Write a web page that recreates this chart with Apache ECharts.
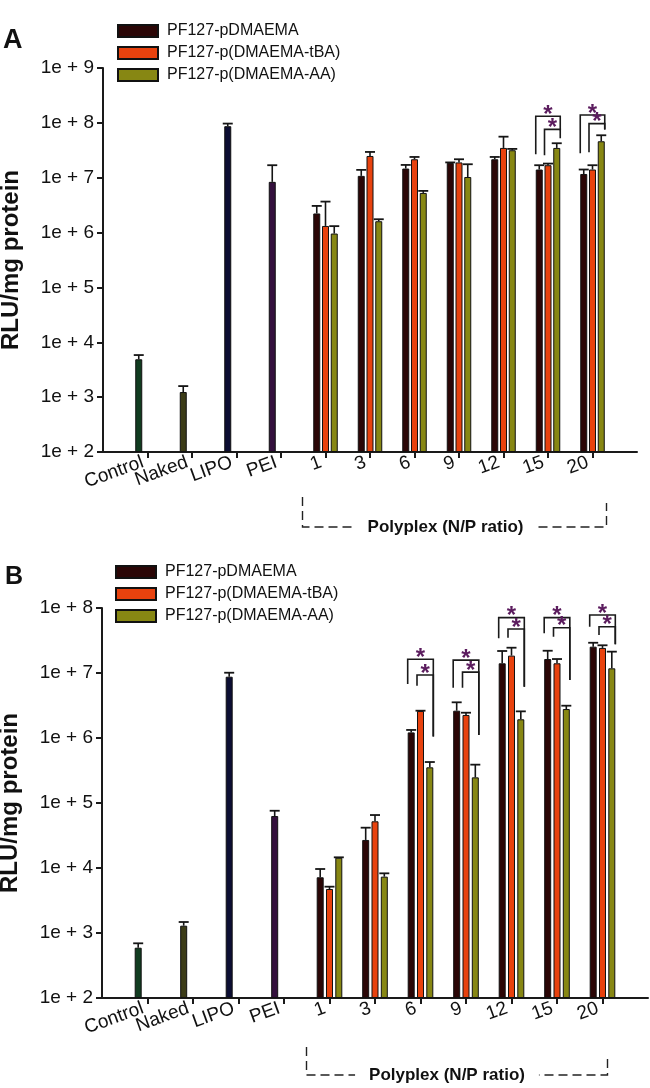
<!DOCTYPE html>
<html><head><meta charset="utf-8">
<script src="https://cdn.jsdelivr.net/npm/echarts@6/dist/echarts.min.js"></script>
<style>html,body{margin:0;padding:0;background:#fff}#c{width:650px;height:1088px}</style>
</head><body><div id="c"></div>
<script>
// ---------- data ----------
const categories = ['Control', 'Naked', 'LIPO', 'PEI', '1', '3', '6', '9', '12', '15', '20'];
const seriesNames = ['PF127-pDMAEMA', 'PF127-p(DMAEMA-tBA)', 'PF127-p(DMAEMA-AA)'];
const controlNames = ['Control', 'Naked', 'LIPO', 'PEI'];
const yTickLabelsA = ['1e + 2', '1e + 3', '1e + 4', '1e + 5', '1e + 6', '1e + 7', '1e + 8', '1e + 9'];
const yTickLabelsB = ['1e + 2', '1e + 3', '1e + 4', '1e + 5', '1e + 6', '1e + 7', '1e + 8'];

// Panel A
const controlsA = [4.9e3, 1.24e3, 8.7e7, 8.4e6];
const controlsUpperA = [5.85e3, 1.59e3, 9.7e7, 1.69e7];
const dmaemaA = [2.23e6, 1.08e7, 1.47e7, 1.86e7, 2.17e7, 1.41e7, 1.17e7];
const dmaemaUpperA = [3.06e6, 1.39e7, 1.71e7, 1.9e7, 2.39e7, 1.69e7, 1.41e7];
const tbaA = [1.32e6, 2.49e7, 2.17e7, 1.9e7, 3.49e7, 1.69e7, 1.41e7];
const tbaUpperA = [3.67e6, 2.95e7, 2.39e7, 2.17e7, 5.6e7, 1.81e7, 1.69e7];
const aaA = [9.6e5, 1.61e6, 5.28e6, 1.03e7, 3.17e7, 3.49e7, 4.62e7];
const aaUpperA = [1.31e6, 1.75e6, 5.75e6, 1.76e7, 3.35e7, 4.25e7, 5.94e7];
// [category, top, fromSeries, toSeries, leftBottom, rightBottom]
const bracketsA = [
  ['15', 1.32e8, 0, 2, 2.68e7, 7.3e7],
  ['15', 7.6e7, 1, 2, 2.57e7, 5.25e7],
  ['20', 1.39e8, 0, 2, 2.79e7, 7.55e7],
  ['20', 9.7e7, 1, 2, 2.91e7, 7.55e7]
];

// Panel B
const controlsB = [594, 1295, 8.77e6, 6.3e4];
const controlsUpperB = [694, 1476, 1.01e7, 7.6e4];
const dmaemaB = [7.2e3, 2.7e4, 1.22e6, 2.63e6, 1.41e7, 1.64e7, 2.54e7];
const dmaemaUpperB = [9.65e3, 4.17e4, 1.33e6, 3.54e6, 2.18e7, 2.2e7, 2.92e7];
const tbaB = [4.75e3, 5.23e4, 2.6e6, 2.26e6, 1.85e7, 1.41e7, 2.43e7];
const tbaUpperB = [5.16e3, 6.53e4, 2.63e6, 2.45e6, 2.45e7, 1.64e7, 2.67e7];
const aaB = [1.44e4, 7.36e3, 3.54e5, 2.48e5, 1.94e6, 2.79e6, 1.18e7];
const aaUpperB = [1.46e4, 8.28e3, 4.27e5, 3.89e5, 2.57e6, 3.14e6, 2.13e7];
const bracketsB = [
  ['6', 1.63e7, 0, 2, 6.78e6, 1.05e6],
  ['6', 9.3e6, 1, 2, 6.38e6, 1.05e6],
  ['9', 1.58e7, 0, 2, 5.94e6, 1.11e6],
  ['9', 1.03e7, 1, 2, 5.94e6, 1.11e6],
  ['12', 7.1e7, 0, 2, 3.42e7, 6.15e6],
  ['12', 4.75e7, 1, 2, 3.49e7, 6.15e6],
  ['15', 7.1e7, 0, 2, 4.08e7, 7.8e6],
  ['15', 4.98e7, 1, 2, 3.61e7, 7.8e6],
  ['20', 7.8e7, 0, 2, 5.15e7, 2.77e7],
  ['20', 5.15e7, 1, 2, 3.85e7, 2.77e7]
];

// ---------- styling ----------
const FONT = '"Liberation Sans", Arial, Helvetica, sans-serif';
const seriesColors = ['#2b0606', '#e8420e', '#878713'];
const controlColors = ['#113c20', '#3c3c17', '#0c0e33', '#34103d'];
const BAR_W = 7;
const GAP = [0.25, 0.33];
const axisCats = [''].concat(categories, ['']);
const catIndex = name => axisCats.indexOf(name);

function full(controls, values, useControls) {
  const arr = axisCats.map(() => null);
  if (useControls) controls.forEach((v, i) => { arr[i + 1] = { value: v, itemStyle: { color: controlColors[i] } }; });
  values.forEach((v, i) => { arr[i + 5] = v; });
  return arr;
}
function errData(controls, controlsUp, values, up, useControls) {
  const out = [];
  if (useControls) controls.forEach((v, i) => out.push([i + 1, v, controlsUp[i]]));
  values.forEach((v, i) => out.push([i + 5, v, up[i]]));
  return out;
}
function offsetOf(s, panel) { return (s - 1) * BAR_W * (1 + GAP[panel]); }

function errSeries(panel, s, data) {
  return {
    type: 'custom', xAxisIndex: panel, yAxisIndex: panel, z: 5, silent: true,
    encode: { x: 0, y: [1, 2] },
    data: data,
    renderItem: function (params, api) {
      const top = api.coord([api.value(0), api.value(1)]);
      const cap = api.coord([api.value(0), api.value(2)]);
      const cx = top[0] + offsetOf(s, panel);
      return { type: 'group', children: [
        { type: 'line', shape: { x1: cx, y1: top[1], x2: cx, y2: cap[1] }, style: { stroke: '#151515', lineWidth: 1.6 } },
        { type: 'line', shape: { x1: cx - 5, y1: cap[1], x2: cx + 5, y2: cap[1] }, style: { stroke: '#151515', lineWidth: 1.8 } }
      ] };
    }
  };
}
function bracketSeries(panel, brackets) {
  return {
    type: 'custom', xAxisIndex: panel, yAxisIndex: panel, z: 6, silent: true,
    encode: { x: 0, y: 1 },
    data: brackets.map(b => [catIndex(b[0]), b[1], b[2], b[3], b[4], b[5]]),
    renderItem: function (params, api) {
      const cat = api.value(0);
      const t = api.coord([cat, api.value(1)]);
      const lb = api.coord([cat, api.value(4)]);
      const rb = api.coord([cat, api.value(5)]);
      const lx = t[0] + offsetOf(api.value(2), panel) - BAR_W / 2;
      const rx = t[0] + offsetOf(api.value(3), panel) + BAR_W / 2;
      return { type: 'group', children: [
        { type: 'polyline', shape: { points: [[lx, lb[1]], [lx, t[1]], [rx, t[1]], [rx, rb[1]]] },
          style: { stroke: '#1a1a1a', lineWidth: 1.6, fill: null } },
        { type: 'text', x: (lx + rx) / 2, y: t[1] - 1,
          style: { text: '*', fill: '#5b1c5e', font: 'bold 24px ' + FONT, align: 'center', verticalAlign: 'middle' } }
      ] };
    }
  };
}
function barSeries(panel, s, data) {
  return {
    type: 'bar', name: seriesNames[s], xAxisIndex: panel, yAxisIndex: panel,
    data: data, barWidth: BAR_W, barGap: (GAP[panel] * 100) + '%',
    itemStyle: { color: seriesColors[s], borderColor: '#111', borderWidth: 1 },
    emphasis: { disabled: true }, z: 2
  };
}
function yAxis(gridIndex, max, labels) {
  return {
    type: 'log', gridIndex: gridIndex, logBase: 10, min: 100, max: max, startValue: 100,
    splitNumber: labels.length - 1,
    name: 'RLU/mg protein', nameLocation: 'middle', nameRotate: 90, nameGap: 80,
    nameTextStyle: { fontFamily: FONT, fontSize: 24, fontWeight: 'bold', color: '#111' },
    axisLine: { show: true, lineStyle: { color: '#1a1a1a', width: 2 } },
    axisTick: { show: true, length: 6, lineStyle: { color: '#1a1a1a', width: 2 } },
    splitLine: { show: false },
    axisLabel: { fontFamily: FONT, fontSize: 19, color: '#111', margin: 9,
      formatter: v => labels[Math.round(Math.log10(v)) - 2] }
  };
}
function xAxis(gridIndex) {
  return {
    type: 'category', gridIndex: gridIndex, data: axisCats, boundaryGap: false,
    axisLine: { lineStyle: { color: '#1a1a1a', width: 2 } },
    axisTick: { length: 6, lineStyle: { color: '#1a1a1a', width: 2 },
      interval: (i) => i > 0 && i < axisCats.length - 1 },
    axisLabel: { interval: 0, rotate: 20, fontFamily: FONT, fontSize: 19, color: '#111', margin: 8, padding: [0, 5, 0, 0] },
    splitLine: { show: false }
  };
}
function legend(left, top) {
  return {
    data: seriesNames, orient: 'vertical', left: left, top: top, itemWidth: 40, itemHeight: 12, itemGap: 6,
    padding: 0, icon: 'rect', selectedMode: false,
    textStyle: { fontFamily: FONT, fontSize: 16, color: '#111', padding: [0, 0, 0, 4] }
  };
}

const chart = echarts.init(document.getElementById('c'), null, { renderer: 'canvas' });
chart.setOption({
  animation: false,
  backgroundColor: '#fff',
  textStyle: { fontFamily: FONT },
  title: [
    { text: 'A', left: -2, top: 22, textStyle: { fontFamily: FONT, fontSize: 27, fontWeight: 'bold', color: '#111' } },
    { text: 'B', left: 0, top: 560, textStyle: { fontFamily: FONT, fontSize: 25, fontWeight: 'bold', color: '#111' } }
  ],
  legend: [legend(117, 23), legend(115, 564)],
  grid: [
    { left: 103, top: 68, width: 534, height: 384, containLabel: false, outerBoundsMode: 'none' },
    { left: 102, top: 608, width: 546, height: 390, containLabel: false, outerBoundsMode: 'none' }
  ],
  xAxis: [xAxis(0), xAxis(1)],
  yAxis: [yAxis(0, 1e9, yTickLabelsA), yAxis(1, 1e8, yTickLabelsB)],
  series: [
    barSeries(0, 0, full(controlsA, dmaemaA, true)),
    barSeries(0, 1, full(null, tbaA, false)),
    barSeries(0, 2, full(null, aaA, false)),
    barSeries(1, 0, full(controlsB, dmaemaB, true)),
    barSeries(1, 1, full(null, tbaB, false)),
    barSeries(1, 2, full(null, aaB, false)),
    errSeries(0, 0, errData(controlsA, controlsUpperA, dmaemaA, dmaemaUpperA, true)),
    errSeries(0, 1, errData(null, null, tbaA, tbaUpperA, false)),
    errSeries(0, 2, errData(null, null, aaA, aaUpperA, false)),
    errSeries(1, 0, errData(controlsB, controlsUpperB, dmaemaB, dmaemaUpperB, true)),
    errSeries(1, 1, errData(null, null, tbaB, tbaUpperB, false)),
    errSeries(1, 2, errData(null, null, aaB, aaUpperB, false)),
    bracketSeries(0, bracketsA),
    bracketSeries(1, bracketsB)
  ]
});

// Polyplex (N/P ratio) group bracket, anchored to the category axis
function polyplex(panel, yAxisPx, leftExtra, rightExtra, lTop, rTop, lineY, textShift) {
  const x1 = chart.convertToPixel({ xAxisIndex: panel }, catIndex('1')) + leftExtra;
  const x2 = chart.convertToPixel({ xAxisIndex: panel }, catIndex('20')) + rightExtra;
  const y = yAxisPx + lineY;
  return [
    { type: 'polyline', z: 10, shape: { points: [[x1, yAxisPx + lTop], [x1, y], [x2, y], [x2, yAxisPx + rTop]] },
      style: { stroke: '#222', lineWidth: 1.4, lineDash: [9, 5], fill: null } },
    { type: 'text', z: 11, x: (x1 + x2) / 2 + textShift, y: y,
      style: { text: 'Polyplex (N/P ratio)', font: 'bold 17px ' + FONT, fill: '#111', align: 'center', verticalAlign: 'middle',
        backgroundColor: '#fff', padding: [2, 14] } }
  ];
}
const yA = chart.convertToPixel({ yAxisIndex: 0 }, 100);
const yB = chart.convertToPixel({ yAxisIndex: 1 }, 100);
chart.setOption({ graphic: polyplex(0, yA, -23, 14, 45, 51, 75, -9).concat(polyplex(1, yB, -23, 5, 49, 59, 77, -10)) });
</script></body></html>
